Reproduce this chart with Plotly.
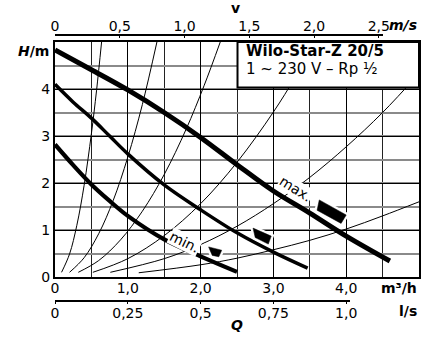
import plotly.graph_objects as go

# ---------------- data ----------------
# pump curves: Q in m³/h, H in m
Q_MAX = [0, 0.5, 1.0, 1.5, 2.0, 2.5, 3.0, 3.5, 4.0, 4.6]
H_MAX = [4.83, 4.41, 3.98, 3.50, 2.97, 2.39, 1.83, 1.36, 0.87, 0.34]
Q_MID = [0, 0.25, 0.5, 0.75, 1.0, 1.5, 2.0, 2.5, 3.0, 3.47]
H_MID = [4.10, 3.72, 3.38, 3.00, 2.62, 1.96, 1.43, 0.94, 0.53, 0.19]
Q_MIN = [0, 0.25, 0.5, 0.75, 1.0, 1.5, 2.0, 2.5]
H_MIN = [2.82, 2.38, 1.97, 1.62, 1.30, 0.80, 0.44, 0.11]

# thin system curves (read points)
SYS_Q1 = [0.09, 0.2, 0.3, 0.4, 0.5, 0.57, 0.64]
SYS_H1 = [0.10, 0.49, 1.10, 1.95, 3.05, 3.96, 5.00]
SYS_Q2 = [0.20, 0.4, 0.6, 0.8, 1.0, 1.2, 1.4]
SYS_H2 = [0.10, 0.41, 0.92, 1.63, 2.55, 3.67, 5.00]
SYS_Q3 = [0.32, 0.6, 0.9, 1.2, 1.5, 1.8, 2.05, 2.27]
SYS_H3 = [0.10, 0.35, 0.79, 1.40, 2.18, 3.14, 4.08, 5.00]
SYS_Q4 = [0.52, 1.0, 1.5, 2.0, 2.5, 3.0, 3.3, 3.58]
SYS_H4 = [0.10, 0.39, 0.88, 1.56, 2.44, 3.51, 4.25, 5.00]
SYS_Q5 = [0.76, 1.5, 2.0, 2.5, 3.0, 3.5, 4.0, 4.5, 5.0]
SYS_H5 = [0.10, 0.39, 0.69, 1.08, 1.56, 2.12, 2.77, 3.50, 4.33]
SYS_Q6 = [1.15, 2.0, 2.5, 3.0, 3.5, 4.0, 4.5, 5.0]
SYS_H6 = [0.09, 0.26, 0.40, 0.58, 0.78, 1.02, 1.30, 1.60]
SYSTEM_CURVES = [(SYS_Q1, SYS_H1), (SYS_Q2, SYS_H2), (SYS_Q3, SYS_H3),
                 (SYS_Q4, SYS_H4), (SYS_Q5, SYS_H5), (SYS_Q6, SYS_H6)]

# axes
Q_RANGE = [0, 5]
H_RANGE = [0, 5]
Q_TICKS = [0, 1, 2, 3, 4]
Q_TICKTEXT = ["0", "1,0", "2,0", "3,0", "4,0"]
H_TICKS = [0, 1, 2, 3, 4]
H_TICKTEXT = ["0", "1", "2", "3", "4"]
V_TICKS = [0, 0.5, 1.0, 1.5, 2.0, 2.5]
V_TICKTEXT = ["0", "0,5", "1,0", "1,5", "2,0", "2,5"]
V_PER_Q = 0.562          # m/s per m³/h on this chart
LS_TICKS = [0, 0.25, 0.5, 0.75, 1.0]
LS_TICKTEXT = ["0", "0,25", "0,5", "0,75", "1,0"]
LS_PER_Q = 0.25          # l/s per m³/h on this chart

# speed markers (data coords)
MARK_MAX = [(3.63, 1.64), (4.00, 1.32), (3.93, 1.14), (3.60, 1.42)]
MARK_MID = [(2.72, 1.04), (2.97, 0.87), (2.93, 0.70), (2.75, 0.84)]
MARK_MIN = [(2.11, 0.64), (2.29, 0.57), (2.25, 0.43), (2.16, 0.46)]

FONT = "DejaVu Sans"

fig = go.Figure()
for q, h in SYSTEM_CURVES:
    fig.add_trace(go.Scatter(x=q, y=h, mode="lines",
                             line=dict(color="black", width=1, shape="spline"),
                             hoverinfo="skip", showlegend=False))
for q, h, w in [(Q_MAX, H_MAX, 5), (Q_MID, H_MID, 3.5), (Q_MIN, H_MIN, 4.2)]:
    fig.add_trace(go.Scatter(x=q, y=h, mode="lines",
                             line=dict(color="black", width=w, shape="spline"),
                             hoverinfo="skip", showlegend=False))
# invisible anchor traces so the secondary (velocity, l/s) axes are drawn
fig.add_trace(go.Scatter(x=[V_TICKS[0]], y=[0], xaxis="x2", yaxis="y2", mode="markers",
                         marker=dict(opacity=0), hoverinfo="skip", showlegend=False))
fig.add_trace(go.Scatter(x=[LS_TICKS[0]], y=[0], xaxis="x3", yaxis="y3", mode="markers",
                         marker=dict(opacity=0), hoverinfo="skip", showlegend=False))

shapes = []
def path_of(pts):
    return "M " + " L ".join(f"{x},{y}" for x, y in pts) + " Z"
for m in (MARK_MAX, MARK_MID, MARK_MIN):
    shapes.append(dict(type="path", path=path_of(m), xref="x", yref="y",
                       fillcolor="white", line=dict(color="white", width=5), layer="above"))
    shapes.append(dict(type="path", path=path_of(m), xref="x", yref="y",
                       fillcolor="black", line=dict(color="black", width=0.5), layer="above"))
# title box
shapes.append(dict(type="rect", xref="x", yref="y", x0=2.507, x1=5, y0=4.03, y1=5,
                   fillcolor="white", line=dict(color="black", width=2), layer="above"))

W, H = 436, 338
ML, MR, MT, MB = 55, 10, 35, 37
PLOT_BOTTOM, PLOT_TOP = 277, 42
ph = H - MT - MB
pw = W - ML - MR
def py(y):
    return (H - MB - y) / ph
def px(x):
    return (x - ML) / pw

ydom = [py(PLOT_BOTTOM), py(PLOT_TOP)]
v_dom = 0.9
ls_dom = 0.81

def note(text, x, y, xref="paper", yref="paper", xanchor="center", size=14, **kw):
    return dict(text=text, x=x, y=y, xref=xref, yref=yref, xanchor=xanchor,
                yanchor="middle", showarrow=False, font=dict(size=size), **kw)

ann = [
    note("<b>v</b>", px(239), py(8)),
    note("<b><i>m/s</i></b>", 1.0, py(25), xanchor="right"),
    note("<b><i>H</i>/m</b>", px(51), py(51), xanchor="right"),
    note("<b>m³/h</b>", 1.0, py(288), xanchor="right"),
    note("<b>l/s</b>", 1.0, py(311), xanchor="right"),
    note("<b><i>Q</i></b>", px(240), py(325)),
    note("<b>Wilo-Star-Z 20/5</b>", 2.60, 4.80, "x", "y", "left", 15),
    note("1 ~ 230 V – Rp ½", 2.60, 4.43, "x", "y", "left", 15),
    note("max.", 3.31, 1.87, "x", "y", textangle=32, bgcolor="white", borderpad=0),
    note("min.", 1.78, 0.74, "x", "y", textangle=26, bgcolor="white", borderpad=0),
]

fig.update_layout(
    width=W, height=H,
    margin=dict(l=ML, r=MR, t=MT, b=MB, pad=0),
    paper_bgcolor="white", plot_bgcolor="rgba(0,0,0,0)",
    showlegend=False,
    font=dict(family=FONT, size=14, color="black"),
    xaxis=dict(domain=[0, 1], range=Q_RANGE, anchor="y",
               tickmode="array", tickvals=Q_TICKS, ticktext=Q_TICKTEXT,
               showgrid=True, gridcolor="black", gridwidth=1,
               minor=dict(dtick=0.5, tick0=0, showgrid=True, gridcolor="#222", gridwidth=1, ticks=""),
               showline=True, linecolor="black", linewidth=2, mirror=True,
               ticks="", ticklabelstandoff=-3, zeroline=False, fixedrange=True),
    yaxis=dict(domain=ydom, range=H_RANGE, anchor="x",
               tickmode="array", tickvals=H_TICKS, ticktext=H_TICKTEXT,
               showgrid=True, gridcolor="black", gridwidth=1,
               minor=dict(dtick=0.5, tick0=0, showgrid=True, gridcolor="#8a8a8a", gridwidth=1.5, ticks=""),
               showline=True, linecolor="black", linewidth=2, mirror=True,
               ticks="", zeroline=False, fixedrange=True),
    xaxis2=dict(domain=[0, v_dom], range=[0, Q_RANGE[1] * v_dom * V_PER_Q],
                anchor="free", position=1, side="top",
                tickmode="array", tickvals=V_TICKS, ticktext=V_TICKTEXT,
                showgrid=False, zeroline=False, showline=True, linecolor="black", linewidth=1.5,
                ticks="inside", ticklen=2, tickcolor="black", ticklabelstandoff=-2, fixedrange=True),
    yaxis2=dict(domain=ydom, range=[0, 1], anchor="x2", visible=False, fixedrange=True),
    xaxis3=dict(domain=[0, ls_dom], range=[0, Q_RANGE[1] * ls_dom * LS_PER_Q],
                anchor="free", position=0, side="bottom",
                tickmode="array", tickvals=LS_TICKS, ticktext=LS_TICKTEXT,
                showgrid=False, zeroline=False, showline=True, linecolor="black", linewidth=1.5,
                ticks="outside", ticklen=2, tickcolor="black", ticklabelstandoff=-3, fixedrange=True),
    yaxis3=dict(domain=ydom, range=[0, 1], anchor="x3", visible=False, fixedrange=True),
    shapes=shapes,
    annotations=ann,
)

fig.write_html("out.html", config={"displayModeBar": False},
               post_script="document.body.style.margin='0';document.body.style.padding='0';")
